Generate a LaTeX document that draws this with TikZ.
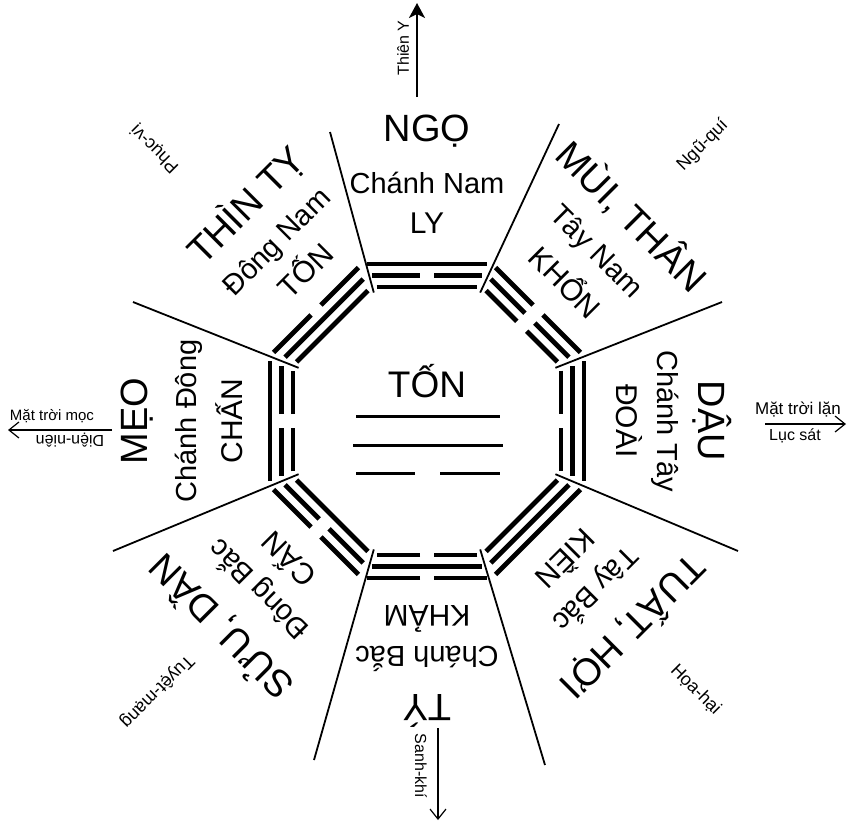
\documentclass[tikz,border=0pt]{standalone}
\usepackage{fontspec}
\setmainfont{Liberation Sans}
\usetikzlibrary{calc,arrows.meta}
\newcommand\yaoline[2]{%
  \pgfmathsetmacro\hh{0.414*#1-5}%
  \ifnum#2=1
    \draw[yao] (-\hh,-#1) -- (\hh,-#1);
  \else
    \draw[yao] (-\hh,-#1) -- (-7,-#1) (7,-#1) -- (\hh,-#1);
  \fi}
\newcommand\trigram[4]{%
  \begin{scope}[shift={(C)}, rotate=#1-90]
    \yaoline{134}{#2}\yaoline{145.5}{#3}\yaoline{157}{#4}
  \end{scope}}
\begin{document}
\begin{tikzpicture}[x=1pt,y=-1pt,
  sector/.style={line width=1.8pt},
  yao/.style={line width=4.8pt},
  yaoc/.style={line width=3pt},
  lbl/.style={inner sep=0pt, anchor=center},
  big/.style={lbl, font=\fontsize{38}{40}\selectfont},
  mid/.style={lbl, font=\fontsize{29}{31}\selectfont},
  inn/.style={lbl, font=\fontsize{30}{32}\selectfont},
  small/.style={lbl, font=\fontsize{16}{18}\selectfont},
  corner/.style={lbl, font=\fontsize{18}{20}\selectfont},
  arr/.style={line width=2.6pt, -{Stealth[length=15pt,width=16pt,inset=4pt]}},
  arrthin/.style={line width=2.6pt, -{Straight Barb[length=10pt,width=16pt,line width=1.2pt]}}
]
\useasboundingbox (0,0) rectangle (854,823);
\coordinate (C) at (427,421);

% sector boundary lines
\coordinate (o1) at (330,132);
\coordinate (o2) at (559,124);
\coordinate (o3) at (722,302);
\coordinate (o4) at (738,551);
\coordinate (o5) at (545,765);
\coordinate (o6) at (314,760);
\coordinate (o7) at (113,551);
\coordinate (o8) at (133,302);
\draw[sector] ($(C)+(-112.5:139)$) -- (o1);
\draw[sector] ($(C)+(-67.5:139)$) -- (o2);
\draw[sector] ($(C)+(-22.5:139)$) -- (o3);
\draw[sector] ($(C)+(22.5:139)$) -- (o4);
\draw[sector] ($(C)+(67.5:139)$) -- (o5);
\draw[sector] ($(C)+(112.5:139)$) -- (o6);
\draw[sector] ($(C)+(157.5:139)$) -- (o7);
\draw[sector] ($(C)+(-157.5:139)$) -- (o8);

% trigrams (first argument: direction on the page; then inner, middle, outer line)
\trigram{90}{1}{0}{1}
\trigram{45}{0}{0}{0}
\trigram{0}{0}{1}{1}
\trigram{-45}{1}{1}{1}
\trigram{-90}{0}{1}{0}
\trigram{-135}{1}{0}{0}
\trigram{180}{0}{0}{1}
\trigram{135}{1}{1}{0}

% centre
\node[lbl, font=\fontsize{37}{39}\selectfont] (ton) at (427,381) {TỐN};
\coordinate (c1a) at (356,416); \coordinate (c1b) at (500,416);
\coordinate (c2a) at (353,445); \coordinate (c2b) at (503,445);
\coordinate (c3a) at (356,473); \coordinate (c3b) at (415,473);
\coordinate (c3c) at (440,473); \coordinate (c3d) at (500,473);
\draw[yaoc] (c1a) -- (c1b);
\draw[yaoc] (c2a) -- (c2b);
\draw[yaoc] (c3a) -- (c3b) (c3c) -- (c3d);

% sector texts
\node[big] (ngo) at ($(C)+(-90:290)$) {NGỌ};
\node[mid] (cnam) at ($(C)+(-90:238)$) {Chánh Nam};
\node[inn] (ly) at ($(C)+(-90:198)$) {LY};

\node[big, rotate=-45] (mui) at ($(C)+(-45:290)$) {MÙI, THÂN};
\node[mid, rotate=-45] (tnam) at ($(C)+(-45:238)$) {Tây Nam};
\node[inn, rotate=-45] (khon) at ($(C)+(-45:198)$) {KHỔN};

\node[big, rotate=-90] (dau) at ($(C)+(0:285)$) {DẬU};
\node[mid, rotate=-90] (ctay) at ($(C)+(0:238)$) {Chánh Tây};
\node[inn, rotate=-90] (doai) at ($(C)+(0:202)$) {ĐOÀI};

\node[big, rotate=-135] (tuat) at ($(C)+(45:292)$) {TUẤT, HỢI};
\node[mid, rotate=-135] (tbac) at ($(C)+(45:238)$) {Tây Bắc};
\node[inn, rotate=-135] (kien) at ($(C)+(45:198)$) {KIỀN};

\node[big, rotate=180] (ty) at ($(C)+(90:290)$) {TÝ};
\node[mid, rotate=180] (cbac) at ($(C)+(90:238)$) {Chánh Bắc};
\node[inn, rotate=180] (kham) at ($(C)+(90:198)$) {KHẢM};

\node[big, rotate=135] (suu) at ($(C)+(135:292)$) {SỬU, DẦN};
\node[mid, rotate=135] (dbac) at ($(C)+(135:238)$) {Đông Bắc};
\node[inn, rotate=135] (can) at ($(C)+(135:198)$) {CẤN};

\node[big, rotate=90] (meo) at ($(C)+(180:290)$) {MẸO};
\node[mid, rotate=90] (cdong) at ($(C)+(180:238)$) {Chánh Đông};
\node[inn, rotate=90] (chan) at ($(C)+(180:198)$) {CHẤN};

\node[big, rotate=45] (thin) at ($(C)+(-130:282)$) {THÌN TỴ};
\node[mid, rotate=45] (dnam) at ($(C)+(-130:232)$) {Đông Nam};
\node[inn, rotate=45] (tonb) at ($(C)+(-129:196)$) {TỐN};

% corner labels
\node[corner, rotate=135] (phuc) at ($(C)+(-135:385)$) {Phục-vị};
\node[corner, rotate=45] (ngu) at ($(C)+(-45:390)$) {Ngũ-quí};
\node[corner, rotate=-45] (hoa) at ($(C)+(45:380)$) {Họa-hại};
\node[corner, rotate=-135] (tuyet) at ($(C)+(135:382)$) {Tuyệt-mạng};

% arrows
\coordinate (ta) at (417,97); \coordinate (tb) at (417,3);
\draw[arr] (ta) -- (tb);
\node[small, rotate=90] (thieny) at (403,48) {Thiên Y};

\coordinate (ba) at (438,728); \coordinate (bb) at (438,820);
\draw[arrthin] (ba) -- (bb);
\node[small, rotate=-90] (sanh) at (421,766) {Sanh-khí};

\coordinate (la) at (112,430); \coordinate (lb) at (8,430);
\draw[arrthin] (la) -- (lb);
\node[lbl, font=\fontsize{15}{17}\selectfont] (moc) at (52,416) {Mặt trời mọc};
\node[small, rotate=180] (dien) at (70,440) {Diện-niên};

\coordinate (ra) at (765,424); \coordinate (rb) at (846,424);
\draw[arrthin] (ra) -- (rb);
\node[lbl, font=\fontsize{17}{19}\selectfont] (lan) at (798,410) {Mặt trời lặn};
\node[small] (lucsat) at (795,436) {Lục sát};
\end{tikzpicture}
\end{document}
